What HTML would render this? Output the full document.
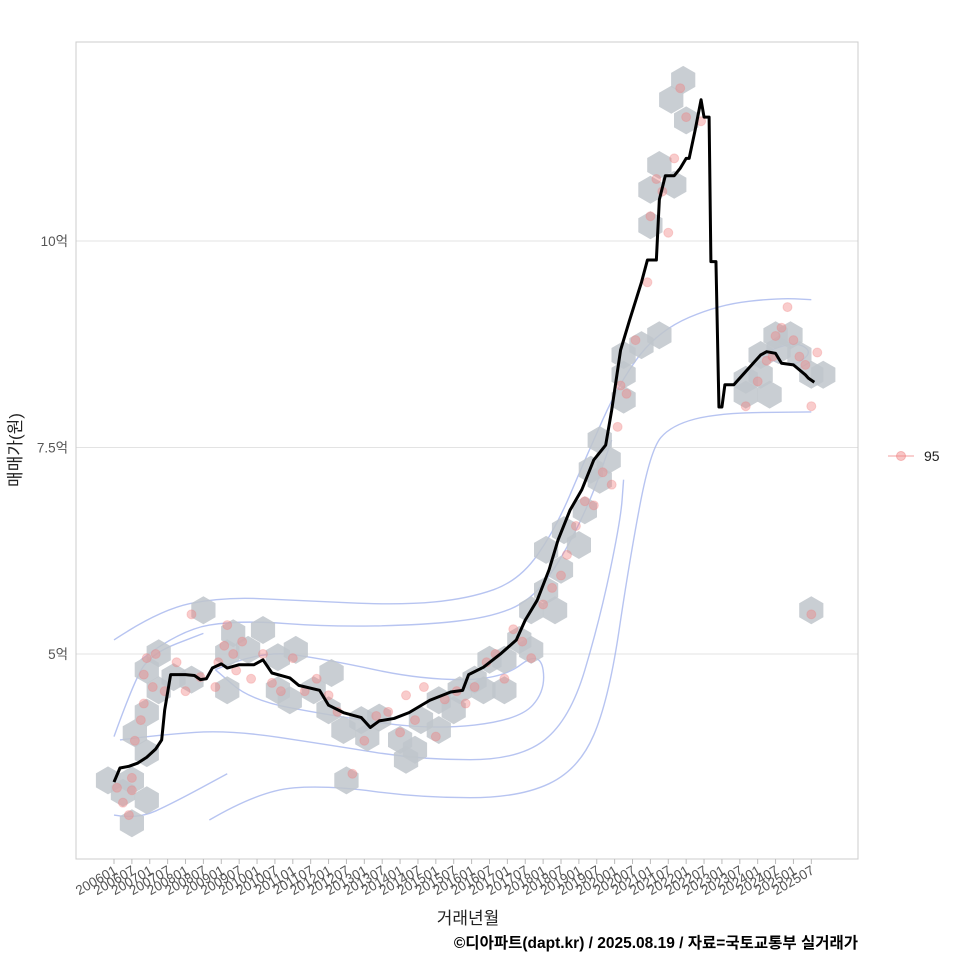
<!DOCTYPE html>
<html><head><meta charset="utf-8">
<style>
body{margin:0;background:#fff;}
svg{display:block;font-family:"Liberation Sans","Noto Sans CJK KR",sans-serif;}
</style></head>
<body>
<svg id="chart" width="960" height="960" viewBox="0 0 960 960">
<rect x="0" y="0" width="960" height="960" fill="#fff"/>
<g id="grid"></g>
<g id="contours"></g>
<g id="hexes"></g>
<g id="points"></g>
<g id="line"></g>
<rect x="76" y="42" width="782" height="817" fill="none" stroke="#ccc" stroke-width="1"/>
<g id="xaxis"></g>
<g id="yaxis"></g>
<text x="468" y="924" text-anchor="middle" font-size="17" fill="#222">거래년월</text>
<text transform="translate(21,450) rotate(-90)" text-anchor="middle" font-size="17" fill="#222">매매가(원)</text>
<g>
<line x1="888" y1="456" x2="914" y2="456" stroke="#f08080" stroke-opacity="0.5" stroke-width="1.5"/>
<circle cx="901" cy="456" r="4.5" fill="#f08080" fill-opacity="0.45" stroke="#f08080" stroke-opacity="0.5"/>
<text x="924" y="461" font-size="14" fill="#222">95</text>
</g>
<text x="858" y="948" text-anchor="end" font-size="15.5" font-weight="bold" fill="#000">©디아파트(dapt.kr) / 2025.08.19 / 자료=국토교통부 실거래가</text>
</svg>
<script>
// months since 2006-01, values in 억
const lineMonths=[0,2,5,8,11,14,16,17,19,24,27,29,31,33,36,38,42,47,50,53,59,62,69,72,77,83,86,89,94,99,106,113,117,119,124,130,135,138,142,146,149,153,157,161,165,167,170,173,177,179,182,183,185,188,190,192,193,195,197,198,199.7,200.3,202,203,204,205,208,211,214,217,219,222,224,228,232,233,235];
const lineValues=[3.45,3.62,3.64,3.68,3.75,3.85,3.96,4.32,4.75,4.75,4.74,4.69,4.70,4.83,4.88,4.83,4.87,4.87,4.93,4.77,4.71,4.62,4.56,4.38,4.29,4.23,4.11,4.19,4.22,4.29,4.44,4.54,4.56,4.75,4.84,5.01,5.17,5.41,5.65,6.02,6.38,6.74,6.99,7.35,7.53,7.95,8.68,9.04,9.50,9.77,9.77,10.50,10.79,10.79,10.88,11.00,11.00,11.34,11.71,11.50,11.50,9.75,9.75,7.99,7.99,8.26,8.26,8.38,8.50,8.62,8.66,8.64,8.52,8.50,8.38,8.34,8.29];
const hexMonths=[-2,3,6,6,11,7,11,11,11,15,15,20,26,30,40,50,38,45,55,61,38,55,59,67,73,72,77,85,89,78,96,98,103,109,101,83,109,116,114,121,126,124,131,131,136,140,140,145,148,145,150,151,156,158,160,163,166,163,171,171,171,177,183,180,180,183,188,191,187,192,212,220,217,223,227,230,234,238,222,217,212,234];
const hexValues=[3.47,3.32,3.47,2.95,3.23,4.04,3.80,4.29,4.81,5.01,4.56,4.72,4.69,5.53,5.25,5.29,5.01,5.05,4.96,5.05,4.56,4.56,4.44,4.56,4.77,4.32,4.08,3.99,4.23,3.47,3.96,3.72,4.20,4.08,3.84,4.20,4.44,4.56,4.32,4.69,4.93,4.56,4.56,4.93,5.17,5.05,5.53,5.77,5.53,6.26,6.02,6.50,6.32,6.74,7.23,7.11,7.35,7.59,8.08,8.38,8.62,8.74,8.86,10.19,10.62,10.92,10.68,11.95,11.71,11.46,8.14,8.14,8.38,8.68,8.86,8.62,8.38,8.38,8.86,8.62,8.32,5.53];
const pointMonths=[1,3,5,6,6,7,9,10,10,11,13,14,17,21,24,26,29,34,35,37,38,40,41,43,46,50,53,56,60,64,68,72,75,80,84,88,92,96,98,101,104,108,111,115,118,121,125,128,131,134,137,140,144,147,150,152,155,158,161,164,167,169,170,172,175,179,180,182,184,186,188,190,192,197,212,216,219,221,222,224,226,228,230,232,234,236,234];
const pointValues=[3.38,3.2,3.05,3.5,3.35,3.95,4.2,4.4,4.75,4.95,4.6,5.0,4.55,4.9,4.55,5.48,4.72,4.6,4.9,5.1,5.35,5.0,4.8,5.15,4.7,5.0,4.65,4.55,4.95,4.55,4.7,4.5,4.3,3.55,3.95,4.25,4.3,4.05,4.5,4.2,4.6,4.0,4.45,4.55,4.4,4.6,4.9,5.0,4.7,5.3,5.15,4.95,5.6,5.8,5.95,6.2,6.55,6.85,6.8,7.2,7.05,7.75,8.25,8.15,8.8,9.5,10.3,10.75,10.6,10.1,11.0,11.85,11.5,11.45,8.0,8.3,8.55,8.6,8.85,8.95,9.2,8.8,8.6,8.5,8.0,8.65,5.48];
const contourA_m=[0,15,36,62,96,119,136,148,158,170,183,203,223,234];
const contourA_v=[5.17,5.53,5.69,5.65,5.59,5.67,5.89,6.50,7.35,8.32,8.92,9.23,9.31,9.29];
const contourB_m=[32,49,72,103,136,156,166,173,180,187,203,234];
const contourB_v=[2.99,3.35,3.41,3.26,3.26,3.60,4.44,6.14,7.47,7.77,7.92,7.93];
const contourC_m=[9,22,42,72,103,126,140,150,160,167];
const contourC_v=[4.93,5.29,5.41,5.33,5.35,5.44,5.65,6.14,6.86,7.59];
const contourD_m=[2,15,39,72,103,136,153,163,170,171];
const contourD_v=[3.96,4.02,4.08,3.90,3.72,3.72,4.20,5.41,6.62,7.11];
const contourE_m=[34,49,72,103,130,143,145,136,106,72,46,34];
const contourE_v=[4.81,5.05,4.93,4.69,4.69,5.05,4.56,4.20,4.08,4.26,4.44,4.81];
const contourF_m=[217,227,235,227,217];
const contourF_v=[8.62,8.80,8.66,8.46,8.62];
const contourG_m=[0,6,12,30];
const contourG_v=[4.0,4.6,5.0,5.25];
const contourH_m=[0,8,20,38];
const contourH_v=[3.05,3.0,3.2,3.55];
const yTickValues=[5,7.5,10];
const yTickLabels=["5억","7.5억","10억"];
const xTickLabels=[];
for(let y=2006;y<=2025;y++){xTickLabels.push(y+"01");xTickLabels.push(y+"07");}

const NS="http://www.w3.org/2000/svg";
const X=m=>114+m*2.98;
const Y=v=>241+(10-v)*82.6;
function mk(tag,attrs,parent){const e=document.createElementNS(NS,tag);for(const k in attrs)e.setAttribute(k,attrs[k]);parent.appendChild(e);return e;}

const grid=document.getElementById('grid');
yTickValues.forEach((v,i)=>{
  const l=mk('line',{x1:76,x2:858,y1:Y(v),y2:Y(v),stroke:'#e3e3e3','stroke-width':1},grid);
  
  
});
const ya=document.getElementById('yaxis');
yTickValues.forEach((v,i)=>{
  const t=mk('text',{x:68,y:Y(v)+5,'text-anchor':'end','font-size':13.5,fill:'#555'},ya);
  t.textContent=yTickLabels[i];
  
  
});
const xa=document.getElementById('xaxis');
xTickLabels.forEach((lab,i)=>{
  const x=X(i*6);
  const tk=mk('line',{x1:x,x2:x,y1:859,y2:864,stroke:'#bbb'},xa);
  
  
  const t=mk('text',{transform:`translate(${x+4},${873}) rotate(-30)`,'text-anchor':'end','font-size':13.5,fill:'#555'},xa);
  t.textContent=lab;
  
  
});

function smooth(ms,vs){
  const p=ms.map((m,i)=>[X(m),Y(vs[i])]);
  let d=`M${p[0][0]},${p[0][1]}`;
  for(let i=1;i<p.length-1;i++){const mx=(p[i][0]+p[i+1][0])/2,my=(p[i][1]+p[i+1][1])/2;d+=` Q${p[i][0]},${p[i][1]} ${mx},${my}`;}
  d+=` L${p[p.length-1][0]},${p[p.length-1][1]}`;
  return d;
}
const cg=document.getElementById('contours');
[[contourA_m,contourA_v],[contourB_m,contourB_v],[contourC_m,contourC_v],[contourD_m,contourD_v],[contourE_m,contourE_v],[contourF_m,contourF_v],[contourG_m,contourG_v],[contourH_m,contourH_v]].forEach(c=>{
  const p=mk('path',{d:smooth(c[0],c[1]),fill:'none',stroke:'#9fb0ec','stroke-width':1.4,'stroke-opacity':0.75},cg);
  
  
});

const hg=document.getElementById('hexes');
const R=14;
hexMonths.forEach((m,i)=>{
  const cx=X(m),cy=Y(hexValues[i]);
  let pts=[];
  for(let k=0;k<6;k++){const a=Math.PI/180*(60*k-90);pts.push((cx+R*Math.cos(a)).toFixed(1)+','+(cy+R*Math.sin(a)).toFixed(1));}
  const h=mk('polygon',{points:pts.join(' '),fill:'#bfc5cb','fill-opacity':0.85},hg);
  
  
});
const pg=document.getElementById('points');
pointMonths.forEach((m,i)=>{
  const c=mk('circle',{cx:X(m),cy:Y(pointValues[i]),r:4.5,fill:'#f07f7f','fill-opacity':0.4,stroke:'#f07f7f','stroke-opacity':0.3},pg);
  
  
});
const lg=document.getElementById('line');
const path=mk('polyline',{points:lineMonths.map((m,i)=>X(m)+','+Y(lineValues[i])).join(' '),fill:'none',stroke:'#000','stroke-width':3,'stroke-linejoin':'round'},lg);


</script>
</body></html>
